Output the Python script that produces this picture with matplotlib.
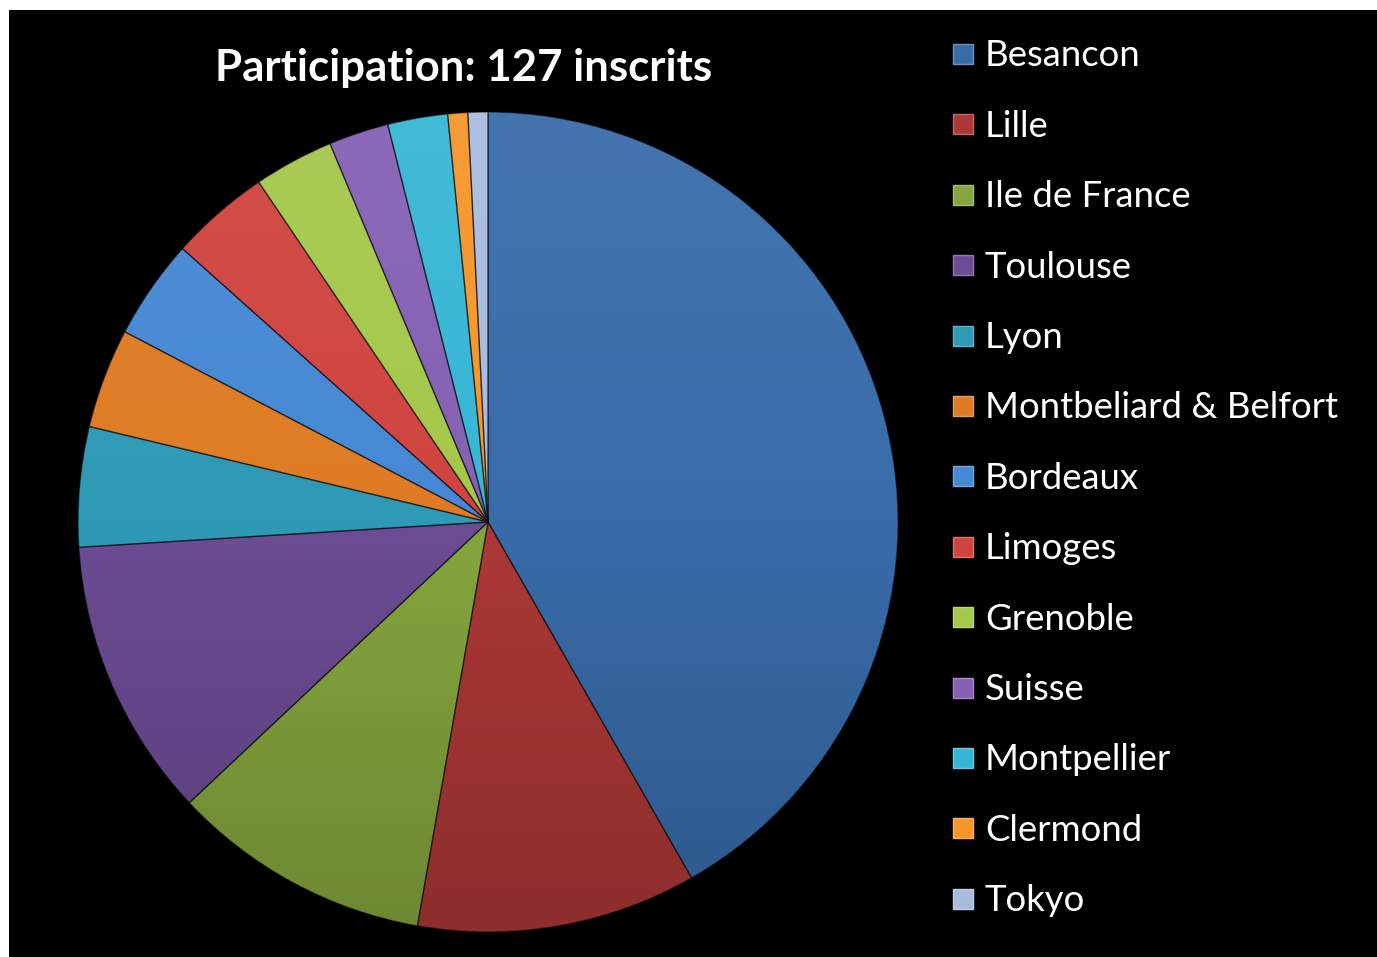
import matplotlib
matplotlib.use("Agg")
import numpy as np
import matplotlib.pyplot as plt
from matplotlib.patches import Rectangle
from matplotlib.colors import LinearSegmentedColormap, to_rgb

plt.rcParams["font.family"] = ["Lato", "DejaVu Sans"]

# data (127 registrations in total)
cities = [
    "Besancon", "Lille", "Ile de France", "Toulouse", "Lyon",
    "Montbeliard & Belfort", "Bordeaux", "Limoges", "Grenoble",
    "Suisse", "Montpellier", "Clermond", "Tokyo",
]
inscrits = [53, 14, 13, 14, 6, 5, 5, 5, 4, 3, 3, 1, 1]
colors = [
    "#386ca9", "#ac3836", "#85a63e", "#6c4c94", "#2f9ab6", "#df7b24",
    "#4688d4", "#d0443f", "#a4c84b", "#8560b4", "#36b6d6", "#f5962a",
    "#a8bce0",
]


def shade(c, f):
    r, g, b = to_rgb(c)
    if f >= 1:
        return tuple(x + (1 - x) * (f - 1) for x in (r, g, b))
    return tuple(x * f for x in (r, g, b))


fig = plt.figure(figsize=(13.77, 9.57), dpi=100, facecolor="white")
# black slide background with thin white strip top and left
fig.patches.append(Rectangle((9 / 1377, -0.1), 1.1, 0.1 + (957 - 10) / 957,
                             transform=fig.transFigure, facecolor="black",
                             edgecolor="none", zorder=-10))

ax = fig.add_axes([0.0567, 0.0261, 0.5955, 0.8569])
ax.set_facecolor("none")
wedges, _ = ax.pie(
    inscrits,
    colors=colors,
    startangle=90,
    counterclock=False,
    wedgeprops=dict(linewidth=1.0, edgecolor=(0, 0, 0, 0.45)),
)

# vertical light-to-dark gradient in each slice (Office style)
grad = np.linspace(0, 1, 256).reshape(-1, 1)
for w, c in zip(wedges, colors):
    cmap = LinearSegmentedColormap.from_list(
        "g", [shade(c, 0.82), c, shade(c, 1.06)])
    im = ax.imshow(grad, extent=(-1, 1, -1, 1), origin="lower", cmap=cmap,
                   aspect="auto", zorder=w.get_zorder() - 0.1,
                   interpolation="bilinear")
    im.set_clip_path(w)
    w.set_facecolor("none")

ax.set_xlim(-1.0, 1.0)
ax.set_ylim(-1.0, 1.0)
ax.set_aspect("equal")
ax.axis("off")

fig.text(464 / 1377, 1 - 68 / 957, "Participation: 127 inscrits",
         ha="center", va="center", color="white", fontsize=31.5,
         fontweight="bold")

# legend drawn by hand to match the slide spacing
y0, step = 54, 70.4
for i, (name, c) in enumerate(zip(cities, colors)):
    yc = y0 + i * step
    fig.patches.append(Rectangle((953 / 1377, 1 - (yc + 10) / 957),
                                 20 / 1377, 20 / 957,
                                 transform=fig.transFigure, facecolor=c,
                                 edgecolor=shade(c, 1.25), linewidth=1))
    fig.text(985 / 1377, 1 - (yc + 2) / 957, name, ha="left", va="center",
             color="white", fontsize=26.3)

fig.savefig("out.png", dpi=100, facecolor=fig.get_facecolor())
